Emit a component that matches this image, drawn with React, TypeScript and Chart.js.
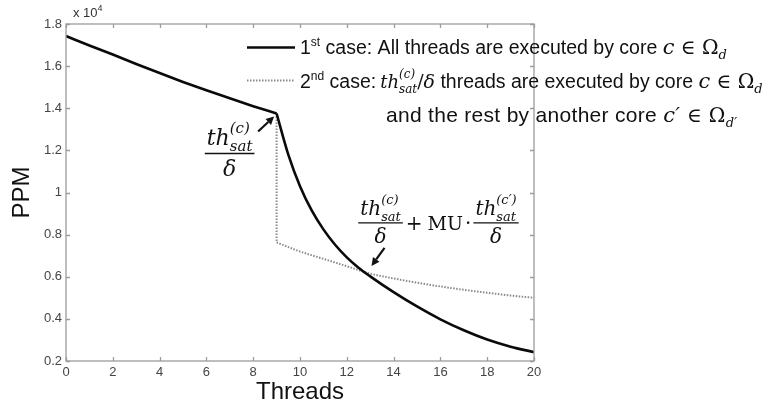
import React, { useEffect, useRef } from "react";
import { Chart, registerables } from "chart.js";

Chart.register(...registerables);

// ---- data (PPM in units of 10^4) ----
const threadsCase1 = [0, 1, 2, 3, 4, 5, 6, 7, 8, 9, 9.5, 10, 10.5, 11, 11.5, 12, 12.5, 13, 14, 15, 16, 17, 18, 19, 20];
const ppmCase1 = [1.743, 1.698, 1.655, 1.61, 1.567, 1.525, 1.485, 1.447, 1.41, 1.375, 1.18, 1.03, 0.915, 0.825, 0.752, 0.692, 0.643, 0.602, 0.527, 0.459, 0.398, 0.346, 0.302, 0.268, 0.242];

const threadsCase2 = [9, 9, 10, 11, 12, 13, 14, 15, 16, 17, 18, 19, 20];
const ppmCase2 = [1.375, 0.763, 0.72, 0.685, 0.65, 0.615, 0.592, 0.572, 0.554, 0.538, 0.524, 0.511, 0.5];

const xTicksMin = 0;
const xTicksMax = 20;
const xStep = 2;
const yTicksMin = 0.2;
const yTicksMax = 1.8;
const yStep = 0.2;

// saturation threshold (threads) and the crossing annotation anchor
const saturationThreads = 9;
const crossingPoint = { x: 12.8, y: 0.623 };

const SANS = '"Liberation Sans", Arial, Helvetica, sans-serif';
const MATH = '"DejaVu Serif", "Liberation Serif", serif';

type Run = {
  t?: string;
  f: string;
  dy?: number;
  sup?: string;
  sub?: string;
  supDy?: number;
  subDy?: number;
  gap?: number;
};

function runsWidth(ctx: CanvasRenderingContext2D, runs: Run[]) {
  let w = 0;
  for (const r of runs) {
    if (r.gap) {
      w += r.gap;
      continue;
    }
    ctx.font = r.f;
    if (r.sup !== undefined) {
      w += Math.max(ctx.measureText(r.sup).width, ctx.measureText(r.sub || "").width);
    } else {
      w += ctx.measureText(r.t || "").width;
    }
  }
  return w;
}

function drawRuns(ctx: CanvasRenderingContext2D, x: number, y: number, runs: Run[]) {
  let cx = x;
  for (const r of runs) {
    if (r.gap) {
      cx += r.gap;
      continue;
    }
    ctx.font = r.f;
    if (r.sup !== undefined) {
      const w1 = ctx.measureText(r.sup).width;
      const w2 = ctx.measureText(r.sub || "").width;
      ctx.fillText(r.sup, cx, y + (r.supDy || 0));
      ctx.fillText(r.sub || "", cx, y + (r.subDy || 0));
      cx += Math.max(w1, w2);
    } else {
      ctx.fillText(r.t || "", cx, y + (r.dy || 0));
      cx += ctx.measureText(r.t || "").width;
    }
  }
  return cx;
}

function thSat(size: number, supText: string): Run[] {
  const small = Math.round(size * 0.66);
  return [
    { t: "th", f: `italic ${size}px ${MATH}` },
    {
      f: `italic ${small}px ${MATH}`,
      sup: supText,
      sub: "sat",
      supDy: -Math.round(size * 0.55),
      subDy: Math.round(size * 0.28),
    },
  ];
}

function drawFraction(ctx: CanvasRenderingContext2D, cx: number, barY: number, size: number, supText: string) {
  const num = thSat(size, supText);
  const den: Run[] = [{ t: "δ", f: `italic ${size}px ${MATH}` }];
  const nw = runsWidth(ctx, num);
  const dw = runsWidth(ctx, den);
  drawRuns(ctx, cx - nw / 2, barY - Math.round(size * 0.42), num);
  drawRuns(ctx, cx - dw / 2, barY + Math.round(size * 0.98), den);
  ctx.beginPath();
  ctx.lineWidth = 1.3;
  ctx.strokeStyle = "#111";
  ctx.moveTo(cx - nw / 2 - 2, barY);
  ctx.lineTo(cx + nw / 2 + 2, barY);
  ctx.stroke();
  return nw + 4;
}

function drawArrow(ctx: CanvasRenderingContext2D, x1: number, y1: number, x2: number, y2: number) {
  const ang = Math.atan2(y2 - y1, x2 - x1);
  const head = 8;
  const hw = 4;
  const bx = x2 - head * Math.cos(ang);
  const by = y2 - head * Math.sin(ang);
  ctx.beginPath();
  ctx.strokeStyle = "#111";
  ctx.lineWidth = 2.2;
  ctx.moveTo(x1, y1);
  ctx.lineTo(bx, by);
  ctx.stroke();
  ctx.beginPath();
  ctx.fillStyle = "#111";
  ctx.moveTo(x2, y2);
  ctx.lineTo(bx + hw * Math.sin(ang), by - hw * Math.cos(ang));
  ctx.lineTo(bx - hw * Math.sin(ang), by + hw * Math.cos(ang));
  ctx.closePath();
  ctx.fill();
}

const decorPlugin = {
  id: "decor",
  afterDraw(chart: any) {
    const { ctx, chartArea: a } = chart;
    const xs = chart.scales.x;
    const ys = chart.scales.y;
    ctx.save();

    // axes box and inward ticks
    ctx.strokeStyle = "#9c9c9c";
    ctx.lineWidth = 1.3;
    ctx.strokeRect(a.left, a.top, a.right - a.left, a.bottom - a.top);
    ctx.beginPath();
    const tl = 4;
    xs.ticks.forEach((t: any) => {
      const px = Math.round(xs.getPixelForValue(t.value)) + 0.5;
      ctx.moveTo(px, a.bottom);
      ctx.lineTo(px, a.bottom - tl);
      ctx.moveTo(px, a.top);
      ctx.lineTo(px, a.top + tl);
    });
    ys.ticks.forEach((t: any) => {
      const py = Math.round(ys.getPixelForValue(t.value)) + 0.5;
      ctx.moveTo(a.left, py);
      ctx.lineTo(a.left + tl, py);
      ctx.moveTo(a.right, py);
      ctx.lineTo(a.right - tl, py);
    });
    ctx.stroke();

    // exponent label
    ctx.fillStyle = "#333";
    ctx.textBaseline = "alphabetic";
    ctx.textAlign = "left";
    drawRuns(ctx, a.left + 7, a.top - 7, [
      { t: "x 10", f: `13px ${SANS}` },
      { t: "4", f: `9px ${SANS}`, dy: -6 },
    ]);

    // legend samples use dataset styles
    const dsSolid = chart.data.datasets[0];
    const dsDot = chart.data.datasets[3];
    const lx0 = 247;
    const lx1 = 295;
    ctx.beginPath();
    ctx.strokeStyle = dsSolid.borderColor;
    ctx.lineWidth = dsSolid.borderWidth;
    ctx.setLineDash([]);
    ctx.moveTo(lx0, 47.5);
    ctx.lineTo(lx1, 47.5);
    ctx.stroke();
    ctx.beginPath();
    ctx.strokeStyle = dsDot.borderColor;
    ctx.lineWidth = dsDot.borderWidth;
    ctx.setLineDash(dsDot.borderDash);
    ctx.moveTo(lx0, 80.5);
    ctx.lineTo(lx1, 80.5);
    ctx.stroke();
    ctx.setLineDash([]);

    ctx.fillStyle = "#111";
    const body = `19.5px ${SANS}`;
    const sup = `12px ${SANS}`;
    const mi = `italic 21px ${MATH}`;
    const mr = `20px ${MATH}`;
    const ms = `italic 13px ${MATH}`;
    drawRuns(ctx, 300, 54, [
      { t: "1", f: body },
      { t: "st", f: sup, dy: -8 },
      { t: " case: All threads are executed by core ", f: body },
      { t: "c", f: mi },
      { t: " ∈ ", f: mr },
      { t: "Ω", f: mr },
      { t: "d", f: ms, dy: 5 },
    ]);
    drawRuns(ctx, 300, 88, [
      { t: "2", f: body },
      { t: "nd", f: sup, dy: -8 },
      { t: " case:", f: body },
      { gap: 4, f: body },
      ...thSat(18, "(c)"),
      { t: "/", f: `19px ${MATH}` },
      { t: "δ", f: `italic 19px ${MATH}` },
      { t: " threads are executed by core ", f: body },
      { t: "c", f: mi },
      { t: " ∈ ", f: mr },
      { t: "Ω", f: mr },
      { t: "d", f: ms, dy: 5 },
    ]);
    try {
      (ctx as any).letterSpacing = "0.3px";
    } catch (e) {}
    drawRuns(ctx, 386, 122, [
      { t: "and the rest by another core ", f: `21px ${SANS}` },
      { t: "c′", f: mi },
      { t: " ∈ ", f: mr },
      { t: "Ω", f: mr },
      { t: "d′", f: ms, dy: 5 },
    ]);
    try {
      (ctx as any).letterSpacing = "0px";
    } catch (e) {}

    // annotation 1: saturation point (taken from the first series)
    const si = threadsCase1.indexOf(saturationThreads);
    const px = xs.getPixelForValue(threadsCase1[si]);
    const py = ys.getPixelForValue(ppmCase1[si]);
    drawFraction(ctx, px - 47, py + 40, 22, "(c)");
    drawArrow(ctx, px - 18.5, py + 18, px - 2.5, py + 3);

    // annotation 2: crossing point
    const qx = xs.getPixelForValue(crossingPoint.x);
    const qy = ys.getPixelForValue(crossingPoint.y);
    const barY = qy - 49;
    const w1 = drawFraction(ctx, qx + 15, barY, 20, "(c)");
    let cx = qx + 15 + w1 / 2 + 3;
    ctx.textBaseline = "alphabetic";
    ctx.font = `20px ${MATH}`;
    ctx.fillText("+", cx, barY + 7);
    cx += ctx.measureText("+").width + 5;
    ctx.font = `19px ${MATH}`;
    ctx.fillText("MU", cx, barY + 7);
    cx += ctx.measureText("MU").width + 2;
    ctx.font = `20px ${MATH}`;
    ctx.fillText("·", cx, barY + 7);
    cx += ctx.measureText("·").width + 2;
    const nw2 = runsWidth(ctx, thSat(20, "(c′)"));
    drawFraction(ctx, cx + nw2 / 2 + 2, barY, 20, "(c′)");
    drawArrow(ctx, qx + 19, qy - 24, qx + 6, qy - 6);

    ctx.restore();
  },
};

export default function App() {
  const canvasRef = useRef<HTMLCanvasElement | null>(null);

  useEffect(() => {
    if (!canvasRef.current) return;
    const si = threadsCase1.indexOf(saturationThreads);
    const pts1 = threadsCase1.map((t, i) => ({ x: t, y: ppmCase1[i] }));
    const pts2 = threadsCase2.map((t, i) => ({ x: t, y: ppmCase2[i] }));
    const solid = {
      borderColor: "#0a0a0a",
      borderWidth: 2.6,
      pointRadius: 0,
      fill: false,
      cubicInterpolationMode: "monotone",
    };
    const dotted = {
      borderColor: "#8a8a8a",
      borderWidth: 2,
      borderDash: [1.5, 1.5],
      pointRadius: 0,
      fill: false,
    };
    const chart = new Chart(canvasRef.current, {
      type: "line",
      data: {
        datasets: [
          { label: "1st case", data: pts1.slice(0, si + 1), ...solid },
          { label: "1st case (beyond saturation)", data: pts1.slice(si), ...solid },
          { label: "2nd case (drop)", data: pts2.slice(0, 2), ...dotted, tension: 0 },
          { label: "2nd case", data: pts2.slice(1), ...dotted, cubicInterpolationMode: "monotone" },
        ],
      },
      options: {
        animation: false,
        responsive: false,
        layout: { padding: { left: 0, top: 24, right: 243, bottom: 0 } },
        plugins: { legend: { display: false }, tooltip: { enabled: false } },
        scales: {
          x: {
            type: "linear",
            min: xTicksMin,
            max: xTicksMax,
            ticks: {
              stepSize: xStep,
              padding: 4,
              autoSkip: false,
              maxRotation: 0,
              color: "#444",
              font: { family: SANS, size: 13 },
            },
            grid: { display: false, drawTicks: false },
            border: { display: false },
            title: {
              display: true,
              text: "Threads",
              color: "#111",
              font: { family: SANS, size: 24 },
              padding: { top: 0, bottom: 1 },
            },
            afterFit: (s: any) => {
              s.height = 47;
            },
          },
          y: {
            type: "linear",
            min: yTicksMin,
            max: yTicksMax,
            ticks: {
              stepSize: yStep,
              padding: 4,
              autoSkip: false,
              color: "#444",
              font: { family: SANS, size: 13 },
              callback: (v: any) => String(Math.round(Number(v) * 10) / 10),
            },
            grid: { display: false, drawTicks: false },
            border: { display: false },
            title: {
              display: true,
              text: "PPM",
              color: "#111",
              font: { family: SANS, size: 24 },
              padding: { top: 8, bottom: 0 },
            },
            afterFit: (s: any) => {
              s.width = 66;
            },
          },
        },
      } as any,
      plugins: [decorPlugin],
    });
    return () => chart.destroy();
  }, []);

  return (
    <div style={{ position: "absolute", left: 0, top: 0, width: 777, height: 408, background: "#fff" }}>
      <canvas ref={canvasRef} width={777} height={408} style={{ display: "block" }} />
    </div>
  );
}
